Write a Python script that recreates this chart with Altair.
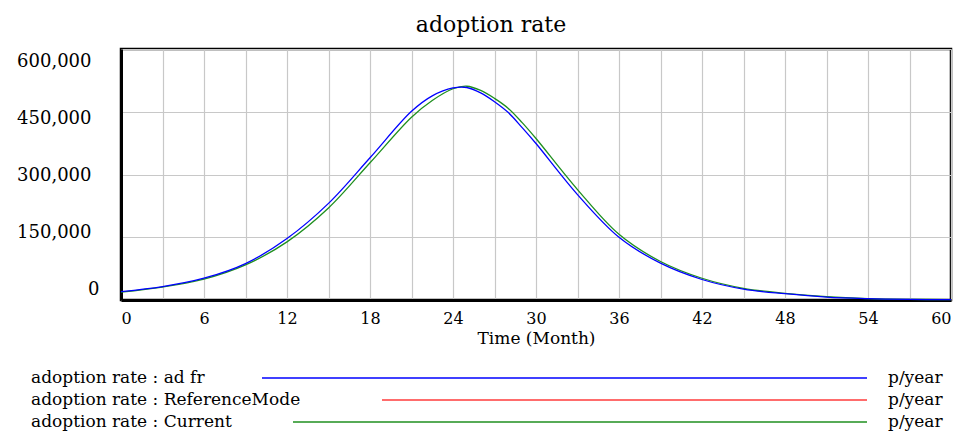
import altair as alt
import pandas as pd

# ---- data ----
time_months = [0, 3, 6, 9, 12, 15, 18, 21, 22.5, 24, 25, 26, 27, 28, 29, 30, 33, 36, 39, 42, 45, 48, 51, 54, 57, 60]
ad_fr = [20000, 32000, 52000, 87000, 147000, 231000, 340000, 451000, 488000, 507000, 508000, 495000,
         474000, 448000, 412000, 374000, 252000, 150000, 88000, 49000, 26000, 15000, 7000, 3300, 1500, 700]
current = [19000, 31000, 50000, 84000, 139000, 220000, 328000, 437000, 477000, 505000, 511000, 501000,
           482000, 458000, 424000, 386000, 264000, 157000, 92000, 52000, 28000, 16000, 8000, 3500, 1600, 800]

legend_names = ["adoption rate : ad fr", "adoption rate : ReferenceMode", "adoption rate : Current"]
legend_units = ["p/year", "p/year", "p/year"]
legend_colors = ["#0000ff", "#ff3b3b", "#1f8f1f"]

x_ticks = list(range(0, 61, 3))
y_ticks = [0, 150000, 300000, 450000, 600000]

SERIF = "DejaVu Serif"

df = pd.DataFrame({
    "time": time_months * 2,
    "value": ad_fr + current,
    "series": ["ad fr"] * len(time_months) + ["Current"] * len(time_months),
})
legend_df = pd.DataFrame({"row": [0, 1, 2], "name": legend_names, "unit": legend_units})

x_enc = alt.X(
    "time:Q",
    scale=alt.Scale(domain=[0, 60], nice=False, zero=False),
    axis=alt.Axis(
        values=x_ticks,
        labelExpr="datum.value % 6 == 0 ? datum.label : ''",
        title="Time (Month)",
        grid=True, gridColor="#c8c8c8", gridWidth=1.2,
        ticks=False,
        domainColor="black", domainWidth=3,
        labelFont=SERIF, labelFontSize=16, labelColor="black", labelPadding=10,
        titleFont=SERIF, titleFontSize=17, titleFontWeight="normal", titleColor="black", titlePadding=4,
    ),
)
y_enc = alt.Y(
    "value:Q",
    scale=alt.Scale(domain=[0, 600000], nice=False),
    axis=alt.Axis(
        values=y_ticks, title=None,
        labelExpr="format(datum.value, ',')",
        grid=True, gridColor="#c8c8c8", gridWidth=1.2,
        ticks=False,
        domainColor="black", domainWidth=3,
        labelFont=SERIF, labelFontSize=18, labelColor="black",
        labelPadding={"expr": "datum.value == 0 ? 22 : 30"},
        labelOffset={"expr": "-10.7 + datum.value / 600000 * 23.4"},
    ),
)

green_line = alt.Chart(df).transform_filter(alt.datum.series == "Current").mark_line(
    color=legend_colors[2], strokeWidth=1.3, interpolate="catmull-rom"
).encode(x=x_enc, y=y_enc)

blue_line = alt.Chart(df).transform_filter(alt.datum.series == "ad fr").mark_line(
    color=legend_colors[0], strokeWidth=1.3, interpolate="catmull-rom"
).encode(x="time:Q", y="value:Q")

# legend layout (pixels relative to plot origin)
row_y = [329, 351, 373]
line_start = [141, 261, 172]
line_end = 746
name_x = -90
unit_x = 767

legend_layers = []
for i in range(3):
    sub = alt.Chart(legend_df).transform_filter(alt.datum.row == i)
    legend_layers.append(
        sub.mark_text(align="left", baseline="middle", font=SERIF, fontSize=17, color="black").encode(
            x=alt.value(name_x), y=alt.value(row_y[i]), text="name:N")
    )
    legend_layers.append(
        sub.mark_rule(color=legend_colors[i], strokeWidth=1.3).encode(
            x=alt.value(line_start[i]), x2=alt.value(line_end), y=alt.value(row_y[i]))
    )
    legend_layers.append(
        sub.mark_text(align="left", baseline="middle", font=SERIF, fontSize=17, color="black").encode(
            x=alt.value(unit_x), y=alt.value(row_y[i]), text="unit:N")
    )

chart = alt.layer(green_line, blue_line, *legend_layers).properties(
    width=830,
    height=251,
    autosize=alt.AutoSizeParams(type="none"),
    padding={"left": 113, "top": 41, "right": 6, "bottom": 132},
    title=alt.Title("adoption rate", font=SERIF, fontSize=22, fontWeight="normal",
                    color="black", frame="group", dx=-45, offset=12),
).configure_view(stroke="black", strokeWidth=2.5)

chart.save("out.html", embed_options={"renderer": "svg", "actions": False})
